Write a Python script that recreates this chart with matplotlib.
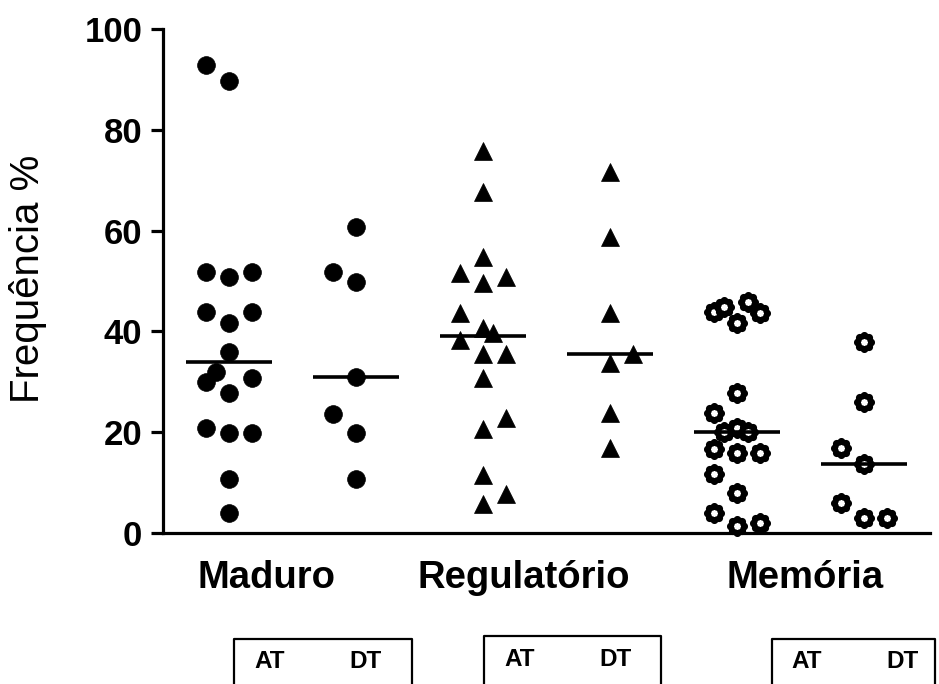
import numpy as np
import matplotlib
matplotlib.use("Agg")
import matplotlib.pyplot as plt
from matplotlib.path import Path
from matplotlib.lines import Line2D
import matplotlib.transforms as mtransforms

plt.rcParams['font.family'] = ['Liberation Sans', 'DejaVu Sans']

# ---------------- data ----------------
categories = ["Maduro", "Regulatório", "Memória"]
subgroups = ["AT", "DT"]

maduro_at = [92.9, 89.7, 51.8, 50.8, 51.8, 43.8, 41.7, 43.8, 36.0, 32.0,
             30.0, 30.8, 27.8, 20.8, 19.8, 19.8, 10.7, 4.0]
maduro_at_col = [-1, 0, -1, 0, 1, -1, 0, 1, 0, -0.55, -1, 1, 0, -1, 0, 1, 0, 0]
maduro_dt = [60.8, 51.8, 49.9, 30.9, 23.7, 19.8, 10.8]
maduro_dt_col = [0, -1, 0, 0, -1, 0, 0]

regul_at = [75.7, 67.7, 54.8, 51.6, 50.7, 49.7, 43.7, 40.6, 39.7, 38.3,
            35.6, 35.6, 30.7, 22.8, 20.6, 11.6, 7.7, 5.7]
regul_at_col = [0, 0, 0, -1, 1, 0, -1, 0, 0.45, -1, 0, 1, 0, 1, 0, 0, 1, 0]
regul_dt = [71.7, 58.8, 43.7, 35.6, 33.7, 23.8, 16.8]
regul_dt_col = [0, 0, 0, 1, 0, 0, 0]

memo_at = [43.9, 44.9, 45.9, 43.7, 41.6, 27.8, 23.9, 20.8, 20.0, 20.0,
           16.6, 15.9, 15.9, 11.8, 7.9, 3.9, 1.3, 1.9]
memo_at_col = [-1, -0.55, 0.5, 1, 0, 0, -1, 0, -0.55, 0.5, -1, 0, 1, -1, 0, -1, 0, 1]
memo_dt = [37.8, 25.9, 16.8, 13.7, 5.9, 2.9, 2.9]
memo_dt_col = [0, 0, -1, 0, -1, 0, 1]

yticks = [0, 20, 40, 60, 80, 100]
ylabel = "Frequência %"

# ---------------- styling ----------------
W, H = 939, 684
fig = plt.figure(figsize=(W / 100, H / 100), dpi=100)
ax = fig.add_axes([163 / W, (H - 533) / H, (930 - 163) / W, (533 - 29) / H])

# flower-like open marker
th = np.linspace(0, 2 * np.pi, 121)
rr = 1 + 0.13 * np.cos(8 * th)
flower = Path(np.column_stack([rr * np.cos(th), rr * np.sin(th)]), closed=True)

col_w = 0.181   # column spacing (data units)
half = 0.338    # half-width of median bar

series = [
    (maduro_at, maduro_at_col, dict(marker='o', ms=12.8, mfc='black', mec='black', mew=0.5)),
    (maduro_dt, maduro_dt_col, dict(marker='o', ms=12.8, mfc='black', mec='black', mew=0.5)),
    (regul_at, regul_at_col, dict(marker='^', ms=12.8, mfc='black', mec='black', mew=0.5)),
    (regul_dt, regul_dt_col, dict(marker='^', ms=12.8, mfc='black', mec='black', mew=0.5)),
    (memo_at, memo_at_col, dict(marker=flower, ms=11.2, mfc='white', mec='black', mew=4.0)),
    (memo_dt, memo_dt_col, dict(marker=flower, ms=11.2, mfc='white', mec='black', mew=4.0)),
]

for i, (vals, cols, st) in enumerate(series):
    xs = i + col_w * np.asarray(cols, dtype=float)
    ax.plot(xs, vals, linestyle='none', clip_on=False, zorder=3, **st)
    med = np.median(vals)
    ax.plot([i - half, i + half], [med, med], color='black', lw=2.6,
            solid_capstyle='butt', zorder=4, clip_on=False)

ax.set_xlim(-0.516, 5.52)
ax.set_ylim(0, 100)
ax.set_yticks(yticks)
ax.set_yticklabels([str(t) for t in yticks], fontsize=25, fontweight='bold')
ax.set_xticks([])
for s in ['top', 'right']:
    ax.spines[s].set_visible(False)
for s in ['left', 'bottom']:
    ax.spines[s].set_linewidth(2.3)
ax.tick_params(axis='y', length=9, width=2.3, pad=6, direction='out')

# y label
fig.text(28 / W, (H - 279) / H, ylabel, rotation=90, fontsize=29,
         ha='center', va='center')

# category labels
blend = mtransforms.blended_transform_factory(ax.transData, fig.transFigure)
cat_x = [0.295, 2.325, 4.54]
for cx, name in zip(cat_x, categories):
    ax.text(cx, (H - 588) / H, name, transform=blend, fontsize=27.5,
            fontweight='bold', ha='center', va='baseline')

# bottom AT / DT boxes (open at bottom)
boxes = [(234, 411.7, 639, 270, 365.7, 661.7),
         (484, 661, 636, 520, 615.7, 659),
         (772, 935, 639, 807, 902.7, 661.7)]
for (x0, x1, top, ax_at, ax_dt, ty) in boxes:
    fig.add_artist(Line2D([x0 / W, x0 / W, x1 / W, x1 / W],
                          [0, (H - top) / H, (H - top) / H, 0],
                          transform=fig.transFigure, color='black', lw=1.6))
    for tx, lab in zip([ax_at, ax_dt], subgroups):
        fig.text(tx / W, (H - ty) / H, lab, fontsize=17.5, fontweight='bold',
                 ha='center', va='center')

fig.savefig("out.png", dpi=100)
